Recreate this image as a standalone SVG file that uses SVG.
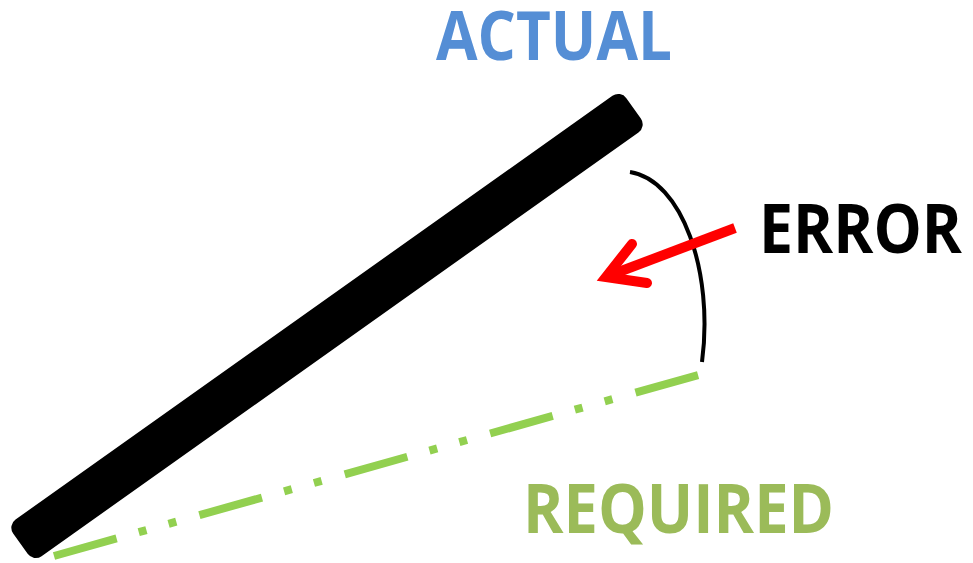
<svg xmlns="http://www.w3.org/2000/svg" width="973" height="563" viewBox="0 0 973 563">
  <style>
    .lbl { font-family: "Open Sans", "Liberation Sans", sans-serif; font-weight: 700; font-size: 68px; }
    .actual { fill: #558ED5; }
    .required { fill: #9BBB59; }
    .error { fill: #000000; }
  </style>
  <rect width="973" height="563" fill="#ffffff"/>
  <g id="connectors">
    <line id="required-line" x1="54" y1="556" x2="702" y2="374" stroke="#92D050" stroke-width="8" stroke-dasharray="65 23 8 23 8 24" stroke-linecap="butt"/>
    <path id="error-arc" d="M630,172 C682,180 714,272 702,362" fill="none" stroke="#000000" stroke-width="4"/>
    <g id="error-arrow" stroke="#FF0000" stroke-width="10" fill="none">
      <line x1="735" y1="228" x2="608" y2="276" stroke-linecap="butt"/>
      <polyline points="632,244 606,277 647,283" stroke-linejoin="miter" stroke-linecap="round" stroke-miterlimit="10"/>
    </g>
  </g>
  <g id="actual-bar">
    <rect transform="translate(327,326) rotate(-35.37)" x="-376" y="-22.5" width="752" height="45" rx="10" fill="#000000"/>
  </g>
  <g id="label-actual">
    <text class="lbl actual" x="436" y="60" textLength="236" lengthAdjust="spacingAndGlyphs">ACTUAL</text>
  </g>
  <g id="label-error">
    <text class="lbl error" x="759" y="253" textLength="203" lengthAdjust="spacingAndGlyphs">ERROR</text>
  </g>
  <g id="label-required">
    <text class="lbl required" x="523" y="533" textLength="311" lengthAdjust="spacingAndGlyphs">REQUIRED</text>
  </g>
</svg>
